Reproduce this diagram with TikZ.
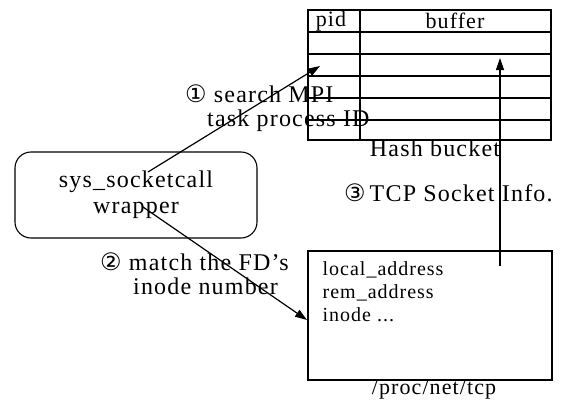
\documentclass[tikz,border=0pt]{standalone}
\usepackage{fontspec}
\setmainfont{Liberation Serif}[LetterSpace=5]
\newfontfamily\circfont{DejaVu Sans}
\usetikzlibrary{arrows.meta,positioning}
\tikzset{
    gridline/.style={line width=1.4pt},
    boxline/.style={draw,line width=1.1pt,inner sep=0pt},
    flow/.style={line width=1.2pt,-{Triangle[length=12pt,width=8pt]}},
    lbl/.style={font=\fontsize{24}{24}\selectfont,inner sep=0pt,align=left},
}
\newcommand{\stepnum}[1]{{\circfont\fontsize{24}{24}\selectfont #1}}
\begin{document}
\begin{tikzpicture}[x=1pt,y=-1pt]
    \useasboundingbox (0,0) rectangle (565,399);
    \node[boxline,line width=1.4pt,minimum width=243pt,minimum height=130pt] (hash) at (429.5,75) {};
    \foreach \y in {32,54,76,98,120}{
        \draw[gridline] (308,\y) -- (551,\y);
    }
    \draw[gridline] (360,10) -- (360,140);
    \node[lbl,font=\fontsize{22}{22}\selectfont] (pid) at (331,21) {pid};
    \node[lbl,font=\fontsize{22}{22}\selectfont] (buffer) at (455,21) {buffer};
    \node[lbl] (hashlbl) at (435,148) {Hash bucket};

    \node[boxline,rounded corners=16pt,minimum width=242pt,minimum height=86pt,align=center,font=\fontsize{24}{26}\selectfont] (wrap) at (136,195) {sys\_socketcall\\wrapper};

    \node[boxline,minimum width=244pt,minimum height=129pt] (tcp) at (430,315.5) {};
    \node[below right=11pt and 15pt of tcp.north west,lbl,font=\fontsize{20}{23}\selectfont] (fields) {local\_address\\rem\_address\\inode ...};
    \node[lbl,font=\fontsize{22}{22}\selectfont] (tcplbl) at (434,390) {/proc/net/tcp};

    \node[lbl,anchor=west] (step1) at (185,108) {\stepnum{①} search MPI\\\hspace{22pt}task process ID};
    \node[lbl,anchor=west] (step2) at (100,274) {\stepnum{②} match the FD’s\\\hspace{33pt}inode number};
    \node[lbl,anchor=west] (step3) at (344,193) {\stepnum{③}\,TCP Socket Info.};

    \coordinate (wrapTop) at (148,172);
    \coordinate (pidCell) at (320,66);
    \coordinate (wrapBot) at (143,207);
    \coordinate (tcpIn) at (307,320);
    \coordinate (tcpOut) at (500,266);
    \coordinate (bufCell) at (500,58);
    \draw[flow] (wrapTop) -- (pidCell);
    \draw[flow] (wrapBot) -- (tcpIn);
    \draw[flow] (tcpOut) -- (bufCell);
\end{tikzpicture}
\end{document}
